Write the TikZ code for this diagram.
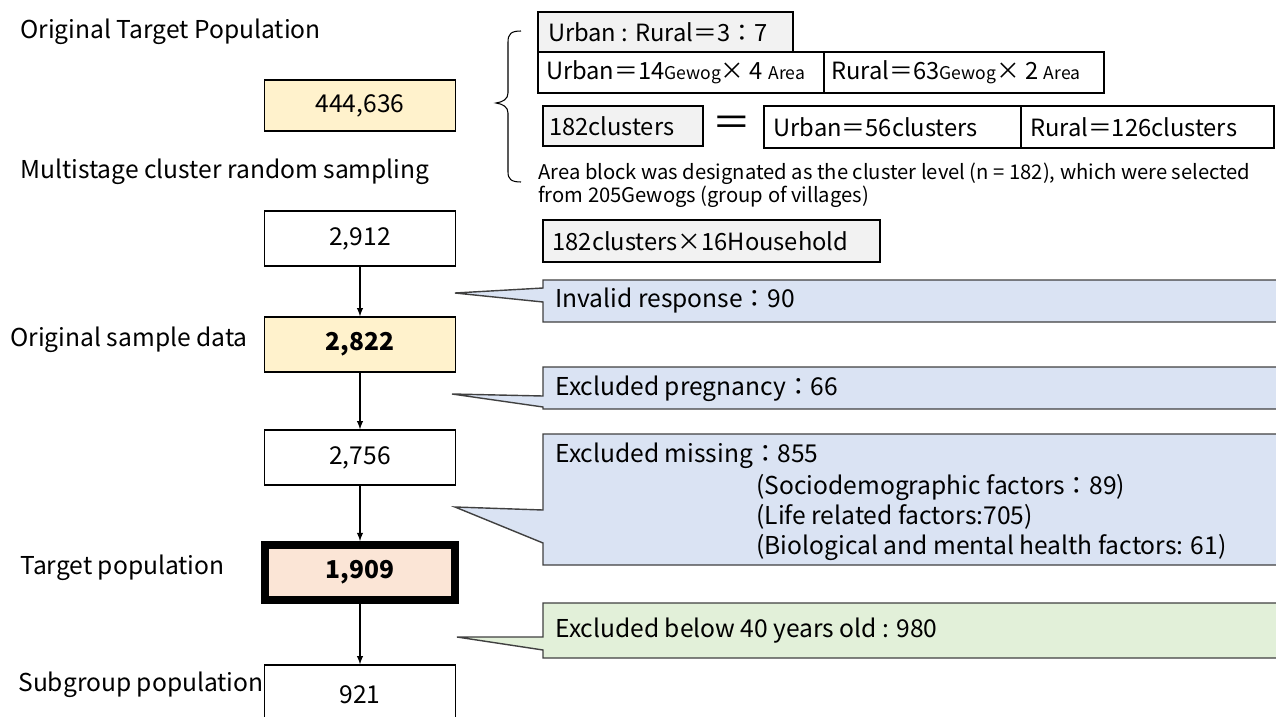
\documentclass[tikz,border=0pt]{standalone}
\usepackage{fontspec}
\setmainfont{Noto Sans CJK JP}
\usepackage{tikz}
\usetikzlibrary{arrows}
\definecolor{boxyellow}{HTML}{FFF2CC}
\definecolor{boxpeach}{HTML}{FBE5D6}
\definecolor{boxgrey}{HTML}{F2F2F2}
\definecolor{callblue}{HTML}{DAE3F3}
\definecolor{callgreen}{HTML}{E2F0D9}
\newcommand{\sm}[1]{{\fontsize{10}{12}\selectfont #1}}
\newcommand{\lft}[2]{\makebox[#1][l]{#2}}

\begin{document}
\begin{tikzpicture}[x=0.02cm,y=-0.02cm,
	every node/.style={font=\fontsize{14}{17}\selectfont},
	numbox/.style={draw,line width=0.8pt,minimum width=3.82cm,minimum height=1.1cm,inner sep=0pt},
	infobox/.style={draw,line width=0.8pt,minimum height=0.82cm,inner sep=0pt,font=\fontsize{13.5}{16}\selectfont},
	sidelbl/.style={anchor=west,inner sep=0pt},
	callout/.style={draw=black!75,line width=0.8pt},
	flow/.style={line width=0.6pt,-latex}]
\useasboundingbox (0,0) rectangle (1276,717);
% % left column: labels
\node[sidelbl] (lblorig) at (20,32) {Original Target Population};
\node[sidelbl] (lblmulti) at (20,172) {Multistage cluster random sampling};
\node[sidelbl] (lblsample) at (10,340) {Original sample data};
\node[sidelbl] (lbltarget) at (20,568) {Target population};
\node[sidelbl] (lblsub) at (18,685) {Subgroup population};
% % left column: counts
\node[numbox,fill=boxyellow,minimum height=1.02cm] (n444) at (360,105.5) {444,636};
\node[numbox] (n2912) at (360,238.5) {2,912};
\node[numbox,fill=boxyellow,font=\fontsize{14}{17}\selectfont\bfseries] (n2822) at (360,344.5) {2,822};
\node[numbox] (n2756) at (360,457.5) {2,756};
\node[numbox,fill=boxpeach,line width=4.5pt,minimum width=3.8cm,font=\fontsize{14}{17}\selectfont\bfseries] (n1909) at (360,572.5) {1,909};
\node[numbox,minimum height=1.2cm] (n921) at (360,695) {921};
\draw[flow] (n2912) -- (n2822);
\draw[flow] (n2822) -- (n2756);
\draw[flow] (n2756) -- (n1909);
\draw[flow] (n1909) -- (n921);
% % sampling design
\draw[line width=0.6pt] (521,31) .. controls (511,31) and (508,34) .. (508,42) -- (508,93)
	.. controls (508,99) and (503,102) .. (496,103) .. controls (503,104) and (508,107) .. (508,113)
	-- (508,172) .. controls (508,179) and (511,182) .. (521,182);
\node[infobox,fill=boxgrey,minimum width=5.1cm,minimum height=0.8cm] (ratio) at (665.5,32) {\lft{4.7cm}{Urban : Rural＝3：7}};
\node[infobox,minimum width=5.72cm] (urbarea) at (681,72.5) {\lft{5.4cm}{Urban＝14\sm{Gewog}× 4 \sm{Area}}};
\node[infobox,minimum width=5.6cm] (rurarea) at (964,72.5) {\lft{5.3cm}{Rural＝63\sm{Gewog}× 2 \sm{Area}}};
\node[infobox,fill=boxgrey,minimum width=3.2cm,minimum height=0.8cm] (c182) at (623,126) {\lft{2.96cm}{182clusters}};
\node[font=\fontsize{22}{22}\selectfont] (eq) at (732,126) {＝};
\node[infobox,minimum width=5.14cm,minimum height=0.84cm] (urb56) at (892.5,127) {\lft{4.76cm}{Urban＝56clusters}};
\node[infobox,minimum width=5.06cm,minimum height=0.84cm] (rur126) at (1147.5,127) {\lft{4.7cm}{Rural＝126clusters}};
\node[anchor=north west,align=left,inner sep=0pt,font=\fontsize{11.5}{13}\selectfont] (note) at (538,163)
	{Area block was designated as the cluster level (n = 182), which were selected\\from 205Gewogs (group of villages)};
\node[infobox,fill=boxgrey,minimum width=6.74cm,minimum height=0.84cm] (hh) at (711.5,241) {\lft{6.36cm}{182clusters×16Household}};
% % exclusions
\draw[callout,fill=callblue] (543,280) -- (1282,280) -- (1282,322) -- (543,322) -- (543,302) -- (455,293) -- (543,288) -- cycle;
\node[sidelbl] (invalid) at (555,301) {Invalid response：90};
\draw[callout,fill=callblue] (543,367) -- (1282,367) -- (1282,409) -- (543,409) -- (543,407) -- (452,394) -- (543,396) -- cycle;
\node[sidelbl] (preg) at (555,389) {Excluded pregnancy：66};
\draw[callout,fill=callblue] (543,434) -- (1282,434) -- (1282,565) -- (543,565) -- (543,543) -- (455,507) -- (543,510) -- cycle;
\node[sidelbl] (miss) at (555,456) {Excluded missing：855};
\node[anchor=north west,align=left,inner sep=0pt,font=\fontsize{14}{17.2}\selectfont] (missdet) at (756,474)
	{(Sociodemographic factors：89)\\(Life related factors:705)\\(Biological and mental health factors: 61)};
\draw[callout,fill=callgreen] (543,603) -- (1282,603) -- (1282,658) -- (543,658) -- (543,650) -- (457,637) -- (543,637) -- cycle;
\node[sidelbl] (age) at (555,631) {Excluded below 40 years old : 980};
\end{tikzpicture}
\end{document}
